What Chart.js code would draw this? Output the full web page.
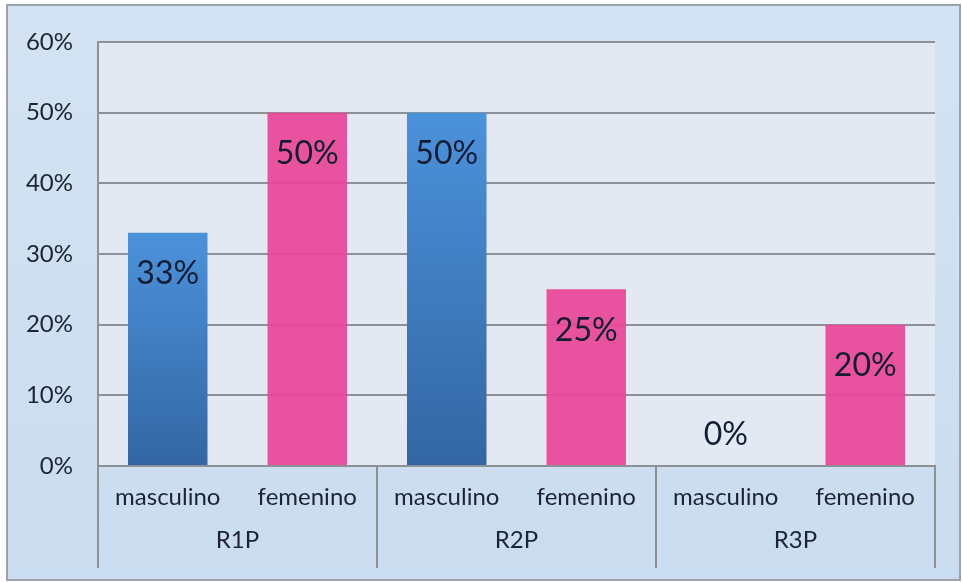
<!DOCTYPE html>
<html>
<head>
<meta charset="utf-8">
<script src="https://cdn.jsdelivr.net/npm/chart.js@4"></script>
<style>
  html, body { margin: 0; padding: 0; background: #ffffff; }
  #wrap { width: 962px; height: 582px; }
</style>
</head>
<body>
<div id="wrap"><canvas id="c" width="962" height="582"></canvas></div>
<script>
// Grupos y subcategorías del eje X
const groups = ['R1P', 'R2P', 'R3P'];
const seriesNames = ['masculino', 'femenino'];
// Porcentajes por grupo
const masculino = [33, 50, 0];
const femenino = [50, 25, 20];
// Marcas del eje Y
const yTicks = [0, 10, 20, 30, 40, 50, 60];

const FONT = 'Lato, "Open Sans", sans-serif';
const TEXT = '#1c2433';
const LINE = '#8d9196';

// Degradado vertical para cada barra azul (claro arriba, oscuro abajo)
function blueFill(ctx) {
  const chart = ctx.chart;
  const y = chart.scales.y;
  if (!chart.chartArea || !y || ctx.parsed === undefined) return '#3f7fc4';
  const top = y.getPixelForValue(ctx.parsed.y);
  const bottom = y.getPixelForValue(0);
  if (!(bottom - top > 1)) return '#3f7fc4';
  const g = chart.ctx.createLinearGradient(0, top, 0, bottom);
  g.addColorStop(0, '#4b92db');
  g.addColorStop(1, '#3366a3');
  return g;
}

// Fondo del gráfico y del área de trazado
const backgroundPlugin = {
  id: 'backgrounds',
  beforeDraw(chart) {
    const c = chart.ctx;
    const a = chart.chartArea;
    c.save();
    const g = c.createLinearGradient(0, 5, 0, 580);
    g.addColorStop(0, '#d3e3f3');
    g.addColorStop(1, '#cadcef');
    c.fillStyle = g;
    c.fillRect(7, 5, 953, 575);
    c.strokeStyle = '#9ea3a8';
    c.lineWidth = 2;
    c.strokeRect(7, 5, 953, 575);
    c.fillStyle = '#e2e9f2';
    c.fillRect(a.left, a.top, a.right - a.left, a.bottom - a.top);
    c.restore();
  }
};

// Etiquetas de valor dentro del extremo superior de cada barra
const valueLabelPlugin = {
  id: 'valueLabels',
  afterDatasetsDraw(chart) {
    const c = chart.ctx;
    c.save();
    c.font = '32px ' + FONT;
    c.fillStyle = '#111d33';
    c.textAlign = 'center';
    c.textBaseline = 'middle';
    chart.data.datasets.forEach((ds, di) => {
      const meta = chart.getDatasetMeta(di);
      meta.data.forEach((bar, i) => {
        const v = ds.data[i];
        const yy = v > 0 ? bar.y + 41 : bar.y - 31;
        c.fillText(v + '%', bar.x, yy);
      });
    });
    c.restore();
  }
};

// Eje X jerárquico: subcategorías y separadores de grupo
const groupAxisPlugin = {
  id: 'groupAxis',
  afterDraw(chart) {
    const c = chart.ctx;
    const a = chart.chartArea;
    const x = chart.scales.x;
    c.save();
    c.font = '24px ' + FONT;
    c.fillStyle = TEXT;
    c.textAlign = 'center';
    c.textBaseline = 'middle';
    chart.data.datasets.forEach((ds, di) => {
      chart.getDatasetMeta(di).data.forEach(bar => {
        c.fillText(ds.label, bar.x, a.bottom + 31);
      });
    });
    c.strokeStyle = LINE;
    c.lineWidth = 2;
    const step = (x.right - x.left) / groups.length;
    for (let i = 0; i <= groups.length; i++) {
      const px = Math.round(x.left + i * step);
      c.beginPath();
      c.moveTo(px, a.bottom);
      c.lineTo(px, 568);
      c.stroke();
    }
    c.restore();
  }
};

new Chart(document.getElementById('c'), {
  type: 'bar',
  data: {
    labels: groups,
    datasets: [
      { label: seriesNames[0], data: masculino, backgroundColor: blueFill },
      { label: seriesNames[1], data: femenino, backgroundColor: 'rgba(233, 70, 152, 0.93)' }
    ]
  },
  options: {
    responsive: false,
    animation: false,
    layout: { padding: { left: 0, top: 42, right: 27, bottom: 0 } },
    datasets: { bar: { categoryPercentage: 1.0, barPercentage: 0.57 } },
    plugins: {
      legend: { display: false },
      tooltip: { enabled: false }
    },
    scales: {
      x: {
        grid: { display: false, drawTicks: false },
        border: { display: true, color: LINE, width: 2 },
        ticks: { color: TEXT, font: { family: FONT, size: 24 }, padding: 60 },
        afterFit(s) { s.height = 116; }
      },
      y: {
        min: 0,
        max: 60,
        afterBuildTicks(s) { s.ticks = yTicks.map(v => ({ value: v })); },
        grid: { color: LINE, lineWidth: 2, drawTicks: false },
        border: { display: true, color: LINE, width: 2 },
        ticks: {
          color: TEXT,
          font: { family: FONT, size: 24 },
          padding: 25,
          callback: v => v + '%'
        },
        afterFit(s) { s.width = 98; }
      }
    }
  },
  plugins: [backgroundPlugin, valueLabelPlugin, groupAxisPlugin]
});
</script>
</body>
</html>
